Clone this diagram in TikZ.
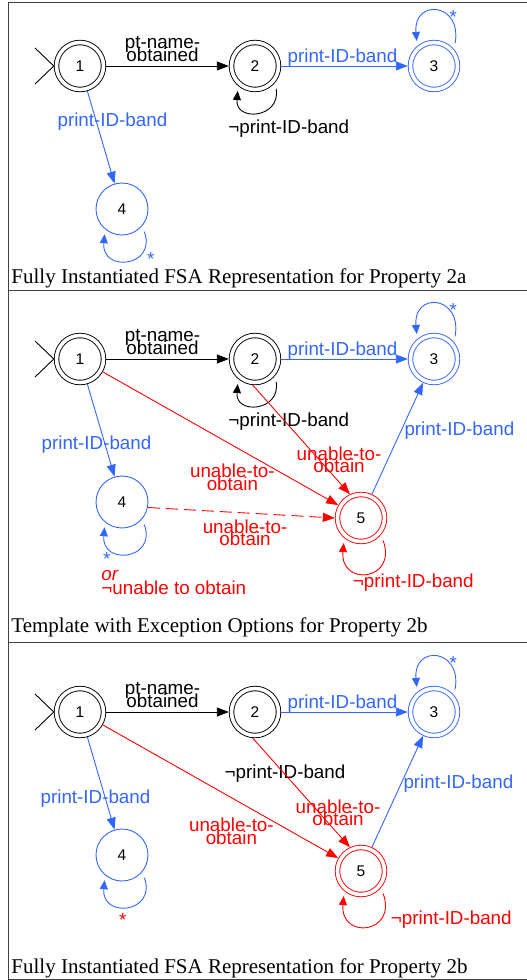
\documentclass[tikz,border=0pt]{standalone}
\usepackage{fontspec}
\setmainfont{Liberation Serif}
\setsansfont{Liberation Sans}
\usetikzlibrary{arrows.meta}
\definecolor{fsablue}{RGB}{51,102,255}
\newcommand\lblfont{\sffamily\fontsize{18.8}{12.5}\selectfont\lineskiplimit=-30pt\relax}
\newcommand\altfont{\sffamily\fontsize{18.8}{14}\selectfont\lineskiplimit=-30pt\relax}

\begin{document}
\begin{tikzpicture}[x=1pt,y=1pt,line width=0.9pt]
\tikzstyle{fsa}=[circle,draw,minimum size=52pt,inner sep=0pt,text=black,font=\sffamily\fontsize{15.5}{16}\selectfont]
\tikzstyle{final}=[fsa,double,double distance=3.6pt,minimum size=47pt,outer sep=2.7pt]
\tikzstyle{lbl}=[inner sep=0pt,align=center,font=\lblfont]
\tikzstyle{trans}=[-{Triangle[length=12pt,width=9pt]}]
\tikzstyle{selfedge}=[-{Triangle[length=9pt,width=8pt]},shorten <=6pt,shorten >=5pt]
\tikzstyle{caption}=[anchor=base west,inner sep=0pt,font=\fontsize{21}{22}\selectfont]
\useasboundingbox (0,0) rectangle (527,-980);

% table lines
\draw[black!75,line width=1pt] (8,-2.5) -- (527,-2.5);
\draw[black!75,line width=1.2pt] (8.3,-2.5) -- (8.3,-979);
\draw[black!75,line width=1pt] (8,-290) -- (527,-290);
\draw[black!75,line width=1pt] (8,-642) -- (527,-642);
\draw[black!75,line width=1pt] (8,-979) -- (527,-979);

% property 2a
\node[final] (1) at (80,-66) {1};
\node[final] (2) at (255,-66) {2};
\node[final,draw=fsablue] (3) at (434,-66) {3};
\node[fsa,draw=fsablue] (4) at (122,-209) {4};
\coordinate (s1) at (35,-48);
\coordinate (s2) at (35,-84);
\draw (s1) -- (1.west) -- (s2);
\draw[trans] (1) -- (2) node[lbl,midway,above=4pt,xshift=-5pt] {pt-name-\\obtained};
\draw[trans,fsablue] (2) -- (3) node[lbl,midway,anchor=base,yshift=3.5pt,xshift=-2pt] {print-ID-band};
\draw[selfedge] (2.-40) to[out=-80,in=-95,looseness=2.5] node[lbl,anchor=base,xshift=31pt,yshift=-22pt] {¬print-ID-band} (2.-130);
\draw[selfedge,fsablue] (3.40) to[out=80,in=95,looseness=3.3] node[lbl,anchor=base,xshift=16pt,yshift=-11pt] {*} (3.130);
\draw[trans,fsablue] (1) -- (4) node[lbl,pos=0.37,xshift=15pt,yshift=4pt] {print-ID-band};
\draw[selfedge,fsablue] (4.-40) to[out=-70,in=-95,looseness=3] node[lbl,anchor=base,xshift=23pt,yshift=-6pt] {*} (4.-130);
\node[caption] (cap1) at (11,-283.5) {Fully Instantiated FSA Representation for Property 2a};

% property 2b, template
\begin{scope}[yshift=-293pt]
\node[final] (1') at (80,-66) {1};
\node[final] (2') at (255,-66) {2};
\node[final,draw=fsablue] (3') at (434,-66) {3};
\node[fsa,draw=fsablue] (4') at (122,-209) {4};
\node[final,draw=red] (5') at (361,-225) {5};
\coordinate (s1') at (35,-48);
\coordinate (s2') at (35,-84);
\draw (s1') -- (1'.west) -- (s2');
\draw[trans] (1') -- (2') node[lbl,midway,above=4pt,xshift=-5pt] {pt-name-\\obtained};
\draw[trans,fsablue] (2') -- (3') node[lbl,midway,anchor=base,yshift=3.5pt,xshift=-2pt] {print-ID-band};
\draw[selfedge] (2'.-40) to[out=-80,in=-95,looseness=2.5] node[lbl,anchor=base,xshift=31pt,yshift=-22pt] {¬print-ID-band} (2'.-130);
\draw[selfedge,fsablue] (3'.40) to[out=80,in=95,looseness=3.3] node[lbl,anchor=base,xshift=16pt,yshift=-11pt] {*} (3'.130);
\draw[trans,fsablue] (1') -- (4') node[lbl,pos=0.63,xshift=-8pt,yshift=-2pt] {print-ID-band};
\draw[trans,red] (1') -- (5') node[lbl,pos=0.61,xshift=-14pt,yshift=-24pt] {unable-to-\\obtain};
\draw[trans,red] (2'.-95) -- (5'.115) node[lbl,pos=0.775,xshift=11pt,yshift=10pt] {unable-to-\\obtain};
\draw[trans,red,dash pattern=on 12pt off 6pt] (4'.-12) -- (5'.180) node[lbl,pos=0.52,yshift=-20pt] {unable-to-\\obtain};
\draw[trans,fsablue] (5') -- (3') node[lbl,pos=0.57,anchor=west,xshift=3pt] {print-ID-band};
\draw[selfedge,red] (5'.-40) to[out=-70,in=-95,looseness=3.4] node[lbl,xshift=46pt,yshift=-11pt] {¬print-ID-band} (5'.-130);
\draw[selfedge,fsablue] (4'.-40) to[out=-70,in=-95,looseness=3] node[lbl,anchor=base,xshift=-21pt,yshift=-13pt] {*} (4'.-130);
\node[lbl,red,align=left,anchor=south west,font=\altfont] (alt') at (101,-302) {\textit{or}\\¬unable to obtain};
\end{scope}
\node[caption] (cap2) at (11,-632) {Template with Exception Options for Property 2b};

% property 2b, instantiated
\begin{scope}[yshift=-646pt]
\node[final] (1'') at (80,-66) {1};
\node[final] (2'') at (255,-66) {2};
\node[final,draw=fsablue] (3'') at (434,-66) {3};
\node[fsa,draw=fsablue] (4'') at (122,-209) {4};
\node[final,draw=red] (5'') at (361,-225) {5};
\coordinate (s1'') at (35,-48);
\coordinate (s2'') at (35,-84);
\draw (s1'') -- (1''.west) -- (s2'');
\draw[trans] (1'') -- (2'') node[lbl,midway,above=4pt,xshift=-5pt] {pt-name-\\obtained};
\draw[trans,fsablue] (2'') -- (3'') node[lbl,midway,anchor=base,yshift=3.5pt,xshift=-2pt] {print-ID-band};
\node[lbl,anchor=base] (np2'') at (285,-132) {¬print-ID-band};
\draw[selfedge,fsablue] (3''.40) to[out=80,in=95,looseness=3.3] node[lbl,anchor=base,xshift=16pt,yshift=-11pt] {*} (3''.130);
\draw[trans,fsablue] (1'') -- (4'') node[lbl,pos=0.63,xshift=-9pt,yshift=-3pt] {print-ID-band};
\draw[trans,red] (1'') -- (5'') node[lbl,pos=0.61,xshift=-15pt,yshift=-25pt] {unable-to-\\obtain};
\draw[trans,red] (2''.-95) -- (5''.115) node[lbl,pos=0.775,xshift=10pt,yshift=10pt] {unable-to-\\obtain};
\draw[trans,fsablue] (5'') -- (3'') node[lbl,pos=0.57,anchor=west,xshift=2pt] {print-ID-band};
\draw[selfedge,red] (5''.-40) to[out=-70,in=-95,looseness=3.4] node[lbl,xshift=84pt,yshift=5pt] {¬print-ID-band} (5''.-130);
\draw[selfedge,fsablue] (4''.-40) to[out=-70,in=-95,looseness=3] node[lbl,red,anchor=base,xshift=-5pt,yshift=-21pt] {*} (4''.-130);
\end{scope}
\node[caption] (cap3) at (11,-973) {Fully Instantiated FSA Representation for Property 2b};
\end{tikzpicture}
\end{document}
